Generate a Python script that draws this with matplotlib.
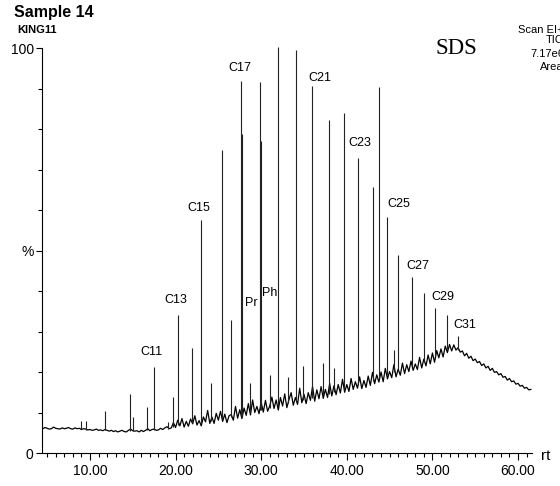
import numpy as np
import matplotlib
matplotlib.use('Agg')
import matplotlib.pyplot as plt
from matplotlib.ticker import MultipleLocator, FixedLocator

plt.rcParams['font.family'] = ['Liberation Sans', 'DejaVu Sans']

#---------------- data ----------------
# TIC baseline, one value every 0.25 min from 4.5 to 61.5 min (%)
int_base = [
    6.0, 6.3, 6.1, 5.9,  6.0, 6.4, 6.1, 6.0,  5.9, 6.2, 6.0, 6.1,  6.3, 6.0, 5.9, 6.2,   # 4.5-8.25
    6.0, 6.1, 5.8, 6.0,  5.9, 5.7, 5.8, 5.6,  5.7, 5.9, 5.6, 5.7,  5.5, 5.8, 5.6, 5.4,   # 8.5-12.25
    5.6, 5.3, 5.5, 5.2,  5.4, 5.6, 5.3, 5.2,  5.6, 5.9, 5.5, 5.4,  5.5, 5.2, 5.6, 5.3,   # 12.5-16.25
    5.6, 6.0, 5.5, 5.8,  5.9, 5.6, 5.7, 6.1,  5.8, 6.2, 6.5, 6.0,  6.2, 7.5, 6.3, 8.1,   # 16.5-20.25
    6.7, 8.5, 6.4, 7.8,  6.6, 8.4, 7.2, 9.2,  6.9, 8.0, 6.7, 8.9,  7.7, 10.5, 7.3, 8.9,  # 20.5-24.25
    7.3, 9.8, 8.1, 10.3,  7.8, 9.6, 7.5, 9.2,  9.5, 8.1, 11.5, 8.6,  10.7, 8.5, 11.1, 9.3,  # 24.5-28.25
    12.2, 9.4, 13.1, 10.0,  11.5, 9.7, 12.5, 10.1,  13.0, 10.3, 11.6, 13.8,  11.0, 13.1, 10.6, 13.7,  # 28.5-32.25
    11.6, 14.6, 11.2, 13.2,  14.9, 11.8, 13.7, 12.0,  16.0, 12.4, 14.5, 12.2,  14.9, 13.0, 16.4, 12.8,  # 32.5-36.25
    15.6, 13.4, 16.4, 13.5,  15.7, 13.7, 17.2, 14.1,  16.6, 14.4, 16.9, 14.8,  18.2, 15.0, 16.9, 15.2,  # 36.5-40.25
    18.4, 15.7, 17.6, 16.0,  18.8, 15.9, 17.9, 16.2,  19.0, 16.7, 19.9, 17.1,  19.3, 17.5, 20.0, 17.6,  # 40.5-44.25
    20.9, 18.3, 20.1, 18.6,  21.8, 18.8, 20.7, 19.2,  22.2, 19.6, 21.8, 20.1,  22.7, 20.4, 22.0, 20.6,  # 44.5-48.25
    23.6, 21.0, 23.2, 21.5,  24.2, 22.0, 24.7, 22.4,  25.3, 23.5, 25.7, 23.7,  26.4, 24.8, 26.8, 25.2,  # 48.5-52.25
    26.7, 25.4, 26.0, 24.9,  25.2, 24.0, 24.6, 23.4,  23.9, 22.8, 23.2, 22.3,  22.6, 21.6, 22.0, 21.0,  # 52.5-56.25
    21.4, 20.4, 20.9, 19.9,  20.1, 19.3, 19.6, 18.7,  18.9, 18.0, 18.4, 17.6,  17.8, 17.0, 17.2, 16.5,  # 56.5-60.25
    16.7, 16.0, 16.2, 15.6,  15.7,                                                                    # 60.5-61.5
]
rt_base = np.linspace(4.5, 61.5, len(int_base))

# resolved peaks: retention time (min), apex (%), foot (%)
peak_rt = [8.91, 9.53, 11.75, 14.67, 15.06, 16.69, 17.53, 19.15, 19.66, 20.32,
           21.88, 22.93, 24.14, 25.39, 26.47, 27.64, 27.72, 28.69, 29.90, 30.00,
           31.03, 32.00, 33.17, 34.03, 34.85, 35.97, 37.25, 37.92, 38.54, 39.67,
           41.31, 43.03, 43.80, 44.66, 45.51, 46.02, 47.58, 49.02, 50.30, 51.67,
           53.02]
peak_top = [7.9, 7.8, 10.4, 14.6, 9.0, 11.4, 21.3, 7.7, 13.9, 34.1,
            25.9, 57.5, 17.3, 74.8, 32.8, 91.9, 78.7, 17.3, 91.7, 77.0,
            19.3, 100.3, 18.8, 99.5, 21.5, 90.6, 22.2, 82.2, 21.0, 84.0,
            72.9, 65.7, 90.3, 58.3, 25.4, 49.0, 43.5, 39.6, 35.8, 34.0,
            29.0]
peak_foot = [6.0, 5.8, 5.6, 5.5, 5.4, 5.6, 5.8, 6.0, 6.3, 6.8,
             7.3, 7.3, 8.0, 8.3, 8.8, 9.2, 9.2, 10.0, 10.5, 10.5,
             11.2, 11.5, 12.3, 12.6, 13.0, 13.6, 14.2, 14.6, 15.0, 15.6,
             16.8, 17.9, 18.4, 19.2, 20.0, 20.4, 21.6, 22.8, 24.0, 25.8,
             25.5]

peak_names = ['C11', 'C13', 'C15', 'C17', 'Pr', 'Ph', 'C21', 'C23', 'C25', 'C27', 'C29', 'C31']
#------------------------------------------------------------------

fig = plt.figure(figsize=(5.6, 4.86), dpi=100)
ax = fig.add_axes([0.075, 0.0679, 0.8745, 0.8333])

ax.plot(rt_base, int_base, color='black', lw=0.9)
ax.vlines(peak_rt, peak_foot, peak_top, color='#222222', lw=0.8, clip_on=False)

# label spots (rt, %) for the annotated peaks
label_pos = [(17.24, 25.0), (20.08, 37.8), (22.7, 60.6), (27.46, 95.0), (28.8, 37.0), (30.97, 39.4),
             (36.83, 92.7), (41.54, 76.5), (46.02, 61.4), (48.32, 46.2), (51.24, 38.6), (53.81, 31.6)]
for name, (x, y) in zip(peak_names, label_pos):
    ax.text(x, y, name, fontsize=9, ha='center', va='center')

ax.set_xlim(4.4, 61.6)
ax.set_ylim(0, 100)
ax.spines['top'].set_visible(False)
ax.spines['right'].set_visible(False)

ax.xaxis.set_minor_locator(MultipleLocator(1))
ax.set_xticks([10, 20, 30, 40, 50, 60], ['10.00', '20.00', '30.00', '40.00', '50.00', '60.00'])
ax.tick_params(axis='x', which='major', length=5, width=0.8, labelsize=10, pad=3)
ax.tick_params(axis='x', which='minor', length=3, width=0.8)

ax.set_yticks([0, 50, 100], ['0', '%', '100'])
ax.yaxis.set_minor_locator(FixedLocator([10, 20, 30, 40, 60, 70, 80, 90]))
ax.tick_params(axis='y', which='major', length=4, width=0.8, labelsize=10, pad=2)
ax.tick_params(axis='y', which='minor', length=3, width=0.8)

fig.text(14/560, 1 - 13/486, 'Sample 14', fontsize=11.5, fontweight='bold', ha='left', va='center')
fig.text(17/560, 1 - 30/486, 'KING11', fontsize=8, fontweight='bold', ha='left', va='center')
fig.text(456/560, 1 - 48/486, 'SDS', fontsize=16.5, family=['Liberation Serif'], ha='center', va='center')
# instrument block, clipped at the right edge as in the original print
for txt, yy in [('Scan EI+', 30), ('TIC', 40), ('7.17e6', 54), ('Area', 67)]:
    fig.text(564/560, 1 - yy/486, txt, fontsize=8, ha='right', va='center')
fig.text(546/560, 1 - 456/486, 'rt', fontsize=11, ha='center', va='center')

fig.savefig('out.png', dpi=100)
